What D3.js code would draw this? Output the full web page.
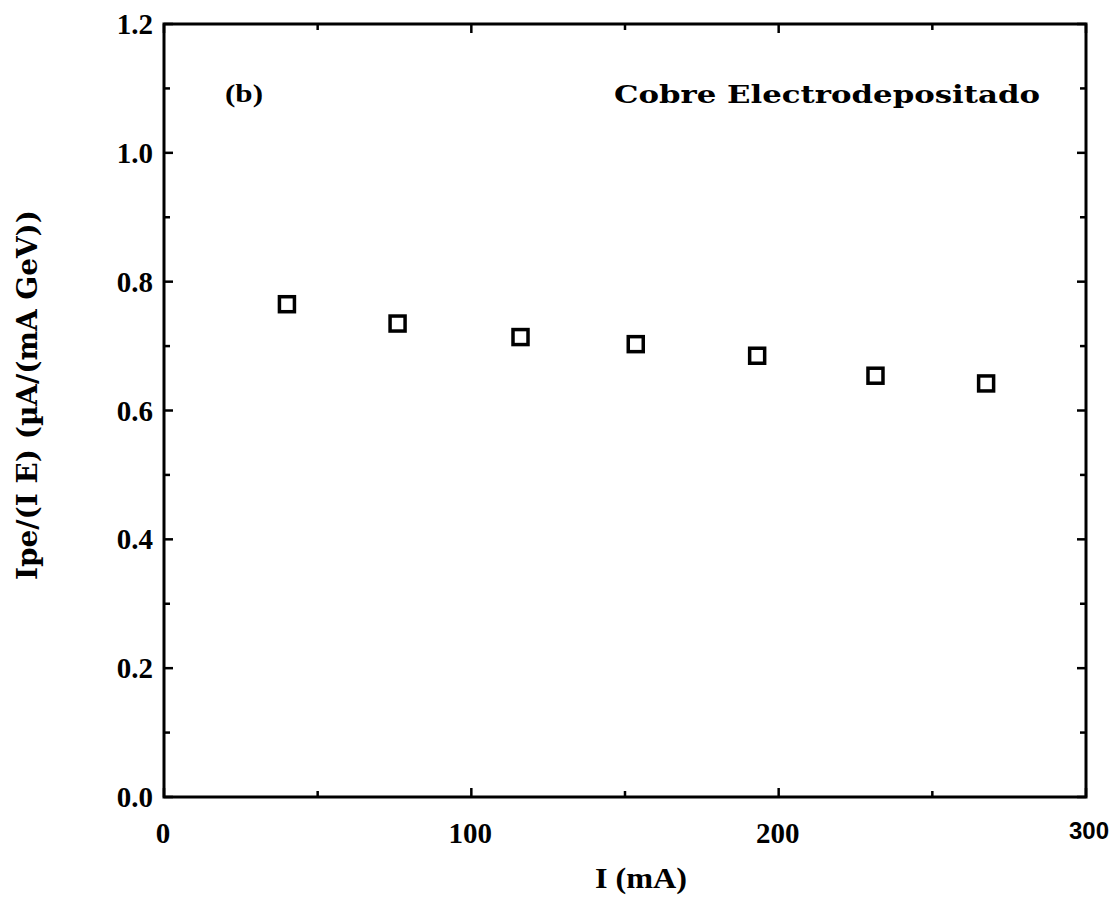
<!DOCTYPE html>
<html><head><meta charset="utf-8">
<script src="https://cdn.jsdelivr.net/npm/d3@7"></script>
<style>body{margin:0;background:#fff;} text{font-family:"Liberation Serif","DejaVu Serif",serif;font-weight:bold;fill:#000;}</style>
</head><body>
<svg id="c" width="1114" height="898"></svg>
<script>
const currentMA = [40, 76, 116, 153.5, 193, 231.5, 267.5];
const ratio = [0.765, 0.735, 0.714, 0.703, 0.685, 0.654, 0.642];
const xTicks = [0, 100, 200, 300];
const yTicks = [0.0, 0.2, 0.4, 0.6, 0.8, 1.0, 1.2];
const xMinor = [50, 150, 250];
const yMinor = [0.1, 0.3, 0.5, 0.7, 0.9, 1.1];

const svg = d3.select("#c");
const L = 164, R = 1086, T = 24, B = 797;
const x = d3.scaleLinear().domain([0, 300]).range([L, R]);
const y = d3.scaleLinear().domain([0, 1.2]).range([B, T]);

const g = svg.append("g");
g.append("rect").attr("x", L).attr("y", T).attr("width", R - L).attr("height", B - T)
  .attr("fill", "none").attr("stroke", "#000").attr("stroke-width", 3);

const major = 9, minor = 6;
xTicks.concat(xMinor).forEach(v => {
  const len = xTicks.includes(v) ? major : minor;
  g.append("line").attr("x1", x(v)).attr("x2", x(v)).attr("y1", B).attr("y2", B - len).attr("stroke", "#000").attr("stroke-width", 2.5);
  g.append("line").attr("x1", x(v)).attr("x2", x(v)).attr("y1", T).attr("y2", T + len).attr("stroke", "#000").attr("stroke-width", 2.5);
});
yTicks.concat(yMinor).forEach(v => {
  const len = yTicks.includes(v) ? major : minor;
  g.append("line").attr("y1", y(v)).attr("y2", y(v)).attr("x1", L).attr("x2", L + len).attr("stroke", "#000").attr("stroke-width", 2.5);
  g.append("line").attr("y1", y(v)).attr("y2", y(v)).attr("x1", R).attr("x2", R - len).attr("stroke", "#000").attr("stroke-width", 2.5);
});

// x tick labels
g.selectAll(".xl").data(xTicks).enter().append("text")
  .attr("x", d => d === 300 ? x(d) + 23 : x(d) - 1).attr("y", d => d === 300 ? 839 : 843)
  .attr("text-anchor", d => d === 300 ? "end" : "middle")
  .style("font-family", d => d === 300 ? "'Liberation Sans',Arial,sans-serif" : null)
  .style("font-size", d => (d === 300 ? 24 : 29) + "px")
  .text(d => d);
// y tick labels
g.selectAll(".yl").data(yTicks).enter().append("text")
  .attr("x", 153).attr("y", d => y(d) + 10).attr("text-anchor", "end")
  .style("font-size", "29px").text(d => d.toFixed(1));

// axis titles
svg.append("text").attr("x", 595).attr("y", 888)
  .style("font-size", "29px").attr("textLength", 92).attr("lengthAdjust", "spacingAndGlyphs").text("I (mA)");
svg.append("text").attr("transform", "translate(37,395) rotate(-90)").attr("text-anchor", "middle")
  .style("font-family", "'DejaVu Serif',serif")
  .style("font-size", "28px").attr("textLength", 370).attr("lengthAdjust", "spacingAndGlyphs")
  .text("Ipe/(I E) (\u00b5A/(mA GeV))");

// annotations
svg.append("text").attr("x", 225).attr("y", 102).style("font-size", "26px")
  .attr("textLength", 38).attr("lengthAdjust", "spacingAndGlyphs").text("(b)");
svg.append("text").attr("x", 614).attr("y", 103)
  .style("font-family", "'DejaVu Serif',serif")
  .style("font-size", "25px").attr("textLength", 426).attr("lengthAdjust", "spacingAndGlyphs")
  .text("Cobre Electrodepositado");

// points
const s = 15;
svg.selectAll(".pt").data(currentMA).enter().append("rect")
  .attr("x", d => x(d) - s / 2).attr("y", (d, i) => y(ratio[i]) - s / 2)
  .attr("width", s).attr("height", s)
  .attr("fill", "none").attr("stroke", "#000").attr("stroke-width", 3.5);
</script>
</body></html>
